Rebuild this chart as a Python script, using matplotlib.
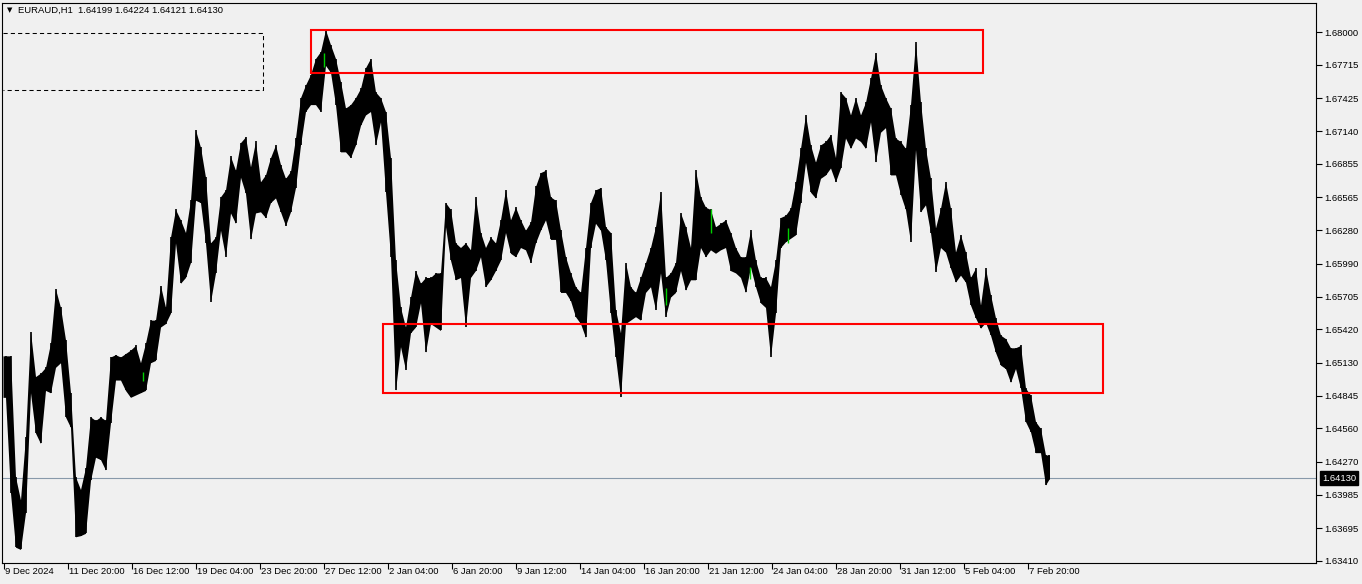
import matplotlib
matplotlib.use("Agg")
import matplotlib.pyplot as plt
import matplotlib.transforms as mtransforms
from matplotlib.patches import Rectangle
import numpy as np
import pandas as pd

# ---------------- data (EURAUD H1, 5-bar groups) ----------------
symbol = "EURAUD,H1"
last_ohlc = [1.64199, 1.64224, 1.64121, 1.64130]
group_size = 5
last_group_bars = 2

seg_high = [
    1.6519, 1.6519, 1.6414, 1.6394, 1.6449, 1.6540, 1.6501, 1.6504, 1.6509, 1.6530,
    1.6577, 1.6561, 1.6533, 1.6487, 1.6414, 1.6403, 1.6422, 1.6466, 1.6463, 1.6466,
    1.6463, 1.6518, 1.6520, 1.6518, 1.6521, 1.6524, 1.6528, 1.6513, 1.6530, 1.6550,
    1.6550, 1.6580, 1.6561, 1.6622, 1.6646, 1.6637, 1.6626, 1.6654, 1.6715, 1.6700,
    1.6674, 1.6617, 1.6622, 1.6657, 1.6663, 1.6692, 1.6680, 1.6704, 1.6709, 1.6683,
    1.6705, 1.6670, 1.6676, 1.6691, 1.6702, 1.6685, 1.6673, 1.6679, 1.6708, 1.6743,
    1.6754, 1.6763, 1.6777, 1.6783, 1.6802, 1.6789, 1.6777, 1.6757, 1.6734, 1.6737,
    1.6743, 1.6751, 1.6769, 1.6777, 1.6748, 1.6743, 1.6731, 1.6691, 1.6602, 1.6561,
    1.6544, 1.6570, 1.6593, 1.6582, 1.6587, 1.6587, 1.6591, 1.6591, 1.6652, 1.6646,
    1.6617, 1.6613, 1.6617, 1.6611, 1.6657, 1.6626, 1.6613, 1.6622, 1.6617, 1.6637,
    1.6663, 1.6637, 1.6648, 1.6637, 1.6628, 1.6635, 1.6666, 1.6678, 1.6680, 1.6657,
    1.6654, 1.6628, 1.6605, 1.6591, 1.6579, 1.6574, 1.6613, 1.6652, 1.6663, 1.6665,
    1.6631, 1.6626, 1.6559, 1.6539, 1.6600, 1.6579, 1.6574, 1.6587, 1.6600, 1.6613,
    1.6631, 1.6661, 1.6587, 1.6591, 1.6600, 1.6643, 1.6631, 1.6613, 1.6680, 1.6657,
    1.6648, 1.6646, 1.6631, 1.6634, 1.6637, 1.6626, 1.6613, 1.6605, 1.6605, 1.6628,
    1.6602, 1.6587, 1.6587, 1.6579, 1.6602, 1.6639, 1.6641, 1.6647, 1.6670, 1.6699,
    1.6728, 1.6702, 1.6687, 1.6702, 1.6705, 1.6711, 1.6691, 1.6748, 1.6743, 1.6728,
    1.6743, 1.6728, 1.6739, 1.6760, 1.6782, 1.6754, 1.6743, 1.6734, 1.6708, 1.6705,
    1.6699, 1.6737, 1.6791, 1.6739, 1.6699, 1.6673, 1.6630, 1.6647, 1.6670, 1.6647,
    1.6609, 1.6624, 1.6609, 1.6587, 1.6595, 1.6563, 1.6595, 1.6572, 1.6552, 1.6537,
    1.6534, 1.6526, 1.6526, 1.6528, 1.6491, 1.6485, 1.6462, 1.6456, 1.6433, 1.6433,
]
seg_low = [
    1.6483, 1.6400, 1.6353, 1.6351, 1.6383, 1.6487, 1.6452, 1.6443, 1.6489, 1.6487,
    1.6509, 1.6513, 1.6466, 1.6457, 1.6362, 1.6363, 1.6365, 1.6411, 1.6431, 1.6429,
    1.6420, 1.6461, 1.6498, 1.6498, 1.6489, 1.6483, 1.6485, 1.6487, 1.6489, 1.6513,
    1.6515, 1.6544, 1.6547, 1.6556, 1.6617, 1.6582, 1.6587, 1.6600, 1.6654, 1.6652,
    1.6617, 1.6566, 1.6591, 1.6628, 1.6605, 1.6643, 1.6634, 1.6674, 1.6660, 1.6620,
    1.6643, 1.6644, 1.6639, 1.6652, 1.6656, 1.6644, 1.6632, 1.6644, 1.6665, 1.6702,
    1.6731, 1.6737, 1.6737, 1.6731, 1.6771, 1.6765, 1.6737, 1.6696, 1.6696, 1.6691,
    1.6702, 1.6719, 1.6728, 1.6731, 1.6702, 1.6722, 1.6661, 1.6605, 1.6489, 1.6527,
    1.6507, 1.6539, 1.6544, 1.6565, 1.6522, 1.6547, 1.6544, 1.6541, 1.6631, 1.6602,
    1.6585, 1.6587, 1.6544, 1.6587, 1.6593, 1.6605, 1.6579, 1.6585, 1.6593, 1.6602,
    1.6626, 1.6608, 1.6605, 1.6613, 1.6611, 1.6600, 1.6617, 1.6628, 1.6637, 1.6620,
    1.6620, 1.6574, 1.6574, 1.6567, 1.6553, 1.6547, 1.6535, 1.6613, 1.6634, 1.6628,
    1.6602, 1.6556, 1.6518, 1.6483, 1.6547, 1.6550, 1.6553, 1.6550, 1.6574, 1.6579,
    1.6559, 1.6591, 1.6553, 1.6570, 1.6574, 1.6593, 1.6576, 1.6585, 1.6585, 1.6613,
    1.6605, 1.6611, 1.6608, 1.6611, 1.6613, 1.6593, 1.6591, 1.6587, 1.6574, 1.6596,
    1.6579, 1.6565, 1.6561, 1.6518, 1.6556, 1.6613, 1.6618, 1.6621, 1.6624, 1.6652,
    1.6687, 1.6661, 1.6656, 1.6673, 1.6676, 1.6682, 1.6670, 1.6682, 1.6708, 1.6699,
    1.6708, 1.6705, 1.6699, 1.6722, 1.6687, 1.6713, 1.6717, 1.6676, 1.6676, 1.6659,
    1.6646, 1.6618, 1.6698, 1.6644, 1.6650, 1.6626, 1.6592, 1.6613, 1.6609, 1.6595,
    1.6583, 1.6589, 1.6583, 1.6563, 1.6552, 1.6543, 1.6548, 1.6537, 1.6522, 1.6511,
    1.6508, 1.6496, 1.6508, 1.6491, 1.6462, 1.6453, 1.6435, 1.6435, 1.6407, 1.6412,
]

# a few single bars drawn in green on the chart
green_bar_idx = [139, 320, 662, 707, 746, 784]
green_bar_high = [1.6505, 1.6782, 1.6578, 1.6646, 1.6596, 1.6630]
green_bar_low = [1.6497, 1.6770, 1.6563, 1.6626, 1.6586, 1.6617]

price_ticks = [1.68000, 1.67715, 1.67425, 1.67140, 1.66855, 1.66565, 1.66280, 1.65990,
               1.65705, 1.65420, 1.65130, 1.64845, 1.64560, 1.64270, 1.63985, 1.63695, 1.63410]

# drawn objects (bar index, price)
zone_top = dict(x0=307.5, x1=979.5, p_top=1.6802, p_bot=1.6764)
zone_bottom = dict(x0=379.5, x1=1099.5, p_top=1.6547, p_bot=1.6487)
dotted_box = dict(x0=-0.5, x1=259.5, p_top=1.6799, p_bot=1.6750)

# time axis: hourly bars, weekdays, holidays closed
days = pd.bdate_range("2024-12-09", "2025-02-14", freq="C", holidays=["2024-12-25", "2025-01-01"])
times = [d + pd.Timedelta(hours=h) for d in days for h in range(24)][4:]
label_every = 64
n_labels = 17

# ---------------- figure ----------------
W, H = 1362, 584
bg = "#F0F0F0"
FONT = "Liberation Sans"
FS = 6.8
fig = plt.figure(figsize=(W / 100, H / 100), dpi=100, facecolor=bg)
L, R, T, B = 2, 1316, 2.5, 563
ax = fig.add_axes([L / W, (H - B) / H, (R - L) / W, (B - T) / H])
ax.set_facecolor(bg)

pix = (1.68000 - 1.63410) / (561 - 32)
ax.set_ylim(1.63410 - (B - 561) * pix, 1.68000 + (32 - T) * pix)
ax.set_xlim(-1.5, (R - 3.5))

# last price line
ax.axhline(last_ohlc[3], color="#8899AA", lw=0.8, zorder=1)

# price trace: band between group highs and lows, plus a wick per group
n = len(seg_high)
hi = np.array(seg_high)
lo = np.array(seg_low)
centers = np.arange(n) * group_size + (group_size - 1) / 2.0
centers[-1] = (n - 1) * group_size + (last_group_bars - 1) / 2.0
xs = np.concatenate([[-0.5], centers, [centers[-1] + 0.5]])
hs = np.concatenate([[hi[0]], hi, [hi[-1]]])
ls_ = np.concatenate([[lo[0]], lo, [lo[-1]]])
ax.fill_between(xs, ls_, hs, color="black", linewidth=0, antialiased=True, zorder=2)
ax.vlines(centers, lo, hi, color="black", lw=1.2, zorder=2)
ax.vlines(green_bar_idx, green_bar_low, green_bar_high, color="#00D000", lw=1.0, zorder=2.5)

for z in (zone_top, zone_bottom):
    ax.add_patch(Rectangle((z["x0"], z["p_bot"]), z["x1"] - z["x0"], z["p_top"] - z["p_bot"],
                           fill=False, ec="#FF0000", lw=1.5, zorder=3))
d = dotted_box
ax.plot([d["x0"], d["x1"], d["x1"], d["x0"]], [d["p_top"], d["p_top"], d["p_bot"], d["p_bot"]],
        color="black", lw=0.75, ls=(0, (4, 3)), zorder=3)

for s in ax.spines.values():
    s.set_color("black")
    s.set_linewidth(0.8)

# y axis on the right
ax.yaxis.tick_right()
ax.set_yticks(price_ticks)
ax.set_yticklabels([f"{v:.5f}" for v in price_ticks], fontsize=FS, family=FONT)
ax.tick_params(axis="y", direction="out", length=4, width=0.8, pad=2, color="black")

# x axis
tick_idx = [i * label_every for i in range(n_labels)]
ax.set_xticks(tick_idx)
ax.set_xticklabels([])
ax.tick_params(axis="x", direction="out", length=4, width=0.8, color="black")
xt = mtransforms.blended_transform_factory(ax.transData, ax.transAxes)
xt = mtransforms.offset_copy(xt, fig=fig, x=1.5, y=-4, units="dots")
for j, i in enumerate(tick_idx):
    t = times[i]
    lab = f"{t.day} {t:%b %Y}" if j == 0 else f"{t.day} {t:%b %H:%M}"
    ax.text(i, 0, lab, transform=xt, ha="left", va="top", fontsize=FS, family=FONT)

# last price box
yt = mtransforms.blended_transform_factory(ax.transAxes, ax.transData)
yt = mtransforms.offset_copy(yt, fig=fig, x=6, y=0, units="dots")
ax.text(1.0, last_ohlc[3], f"{last_ohlc[3]:.5f}", transform=yt, ha="left", va="center",
        fontsize=FS, family=FONT, color="white",
        bbox=dict(boxstyle="square,pad=0.25", fc="black", ec="black"))

# header
fig.text(6.5 / W, 1 - 10.5 / H, "\u25BC", fontsize=5, family="DejaVu Sans", va="center", ha="left")
fig.text(18 / W, 1 - 10.5 / H,
         f"{symbol}  " + " ".join(f"{v:.5f}" for v in last_ohlc),
         fontsize=FS, family=FONT, va="center", ha="left")

fig.savefig("out.png", dpi=100, facecolor=bg)
